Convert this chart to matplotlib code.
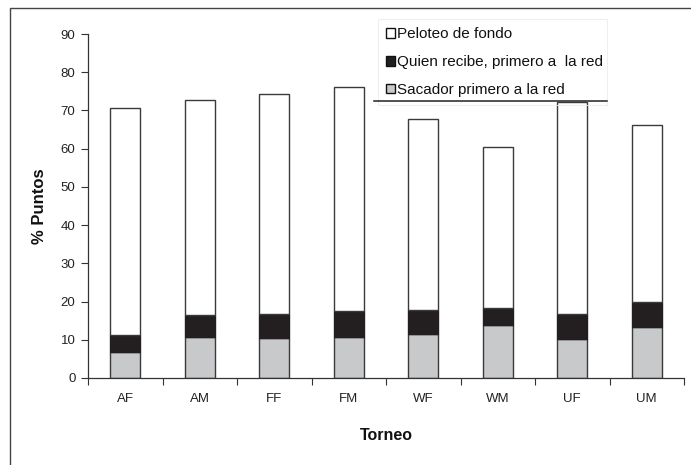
import matplotlib
matplotlib.use("Agg")
import matplotlib.pyplot as plt
import numpy as np
from matplotlib.patches import Patch, Rectangle
from matplotlib.lines import Line2D

plt.rcParams['font.family'] = ['Liberation Sans', 'DejaVu Sans']

# Tournament categories
torneos = ["AF", "AM", "FF", "FM", "WF", "WM", "UF", "UM"]

# Percentages per point type (stacked)
sacador = [6.9, 10.8, 10.5, 10.8, 11.5, 13.9, 10.1, 13.4]
receptor = [4.3, 5.7, 6.2, 6.7, 6.3, 4.3, 6.6, 6.5]
fondo = [59.5, 56.2, 57.7, 58.6, 49.9, 42.3, 55.4, 46.3]

legend_labels = ["Peloteo de fondo", "Quien recibe, primero a  la red", "Sacador primero a la red"]

W, H = 691, 465
fig = plt.figure(figsize=(W / 100, H / 100), dpi=100)
ax = fig.add_axes([88 / W, 1 - 378 / H, (684 - 88) / W, (378 - 34) / H])

x = np.arange(len(torneos))
bw = 0.40
edge = "#3a3a3a"
c_gray = "#c8c9cb"
c_black = "#231f20"

b1 = np.array(sacador)
b2 = b1 + np.array(receptor)
ax.bar(x, sacador, bw, color=c_gray, edgecolor=edge, linewidth=1.0, zorder=2)
ax.bar(x, receptor, bw, bottom=b1, color=c_black, edgecolor=c_black, linewidth=1.0, zorder=2)
ax.bar(x, fondo, bw, bottom=b2, color="white", edgecolor=edge, linewidth=1.0, zorder=2)

ax.set_xlim(-0.5, len(torneos) - 0.5)
ax.set_ylim(0, 90)
ax.set_yticks(np.arange(0, 91, 10))
ax.set_xticks(x)
ax.set_xticklabels(torneos)
ax.set_xticks(np.arange(-0.5, len(torneos), 1.0), minor=True)
ax.tick_params(axis="x", which="major", length=0, pad=11, labelsize=9.5, colors="#222222")
ax.tick_params(axis="x", which="minor", length=5, width=0.8, color="#333333", direction="out")
ax.tick_params(axis="y", length=5, width=0.8, color="#333333", pad=4, labelsize=9.5, labelcolor="#222222")

for s in ["top", "right"]:
    ax.spines[s].set_visible(False)
for s in ["left", "bottom"]:
    ax.spines[s].set_color("#333333")
    ax.spines[s].set_linewidth(0.9)

ax.set_ylabel("% Puntos", fontsize=12, fontweight="bold", labelpad=10, color="#111111")
ax.set_xlabel("Torneo", fontsize=11.5, fontweight="bold", labelpad=16, color="#111111")

handles = [
    Patch(facecolor="white", edgecolor="#111111", linewidth=1.0),
    Patch(facecolor=c_black, edgecolor="#111111", linewidth=1.0),
    Patch(facecolor=c_gray, edgecolor="#111111", linewidth=1.0),
]
leg = fig.legend(handles, legend_labels, loc="upper left",
                 bbox_to_anchor=(378 / W, 1 - 101 / H, (607 - 378) / W, (101 - 19.5) / H),
                 mode="expand", borderaxespad=0, fontsize=11,
                 handlelength=0.6, handleheight=0.6, handletextpad=0.15,
                 labelspacing=0.91, borderpad=0.5,
                 fancybox=False)
leg.get_frame().set_facecolor("none")
leg.get_frame().set_edgecolor("#ececec")
leg.get_frame().set_linewidth(0.8)
for t in leg.get_texts():
    t.set_color("#111111")

# dark rule under the legend box
fig.add_artist(Line2D([374 / W, 607 / W], [1 - 101 / H, 1 - 101 / H],
                      transform=fig.transFigure, color="#222222", linewidth=1.1,
                      zorder=10))

# outer chart frame
fig.add_artist(Rectangle((9.5 / W, -0.05), 1.0, 1 - 8 / H + 0.05,
                         transform=fig.transFigure, fill=False,
                         edgecolor="#444444", linewidth=1.0))

fig.savefig("out.png", dpi=100)
